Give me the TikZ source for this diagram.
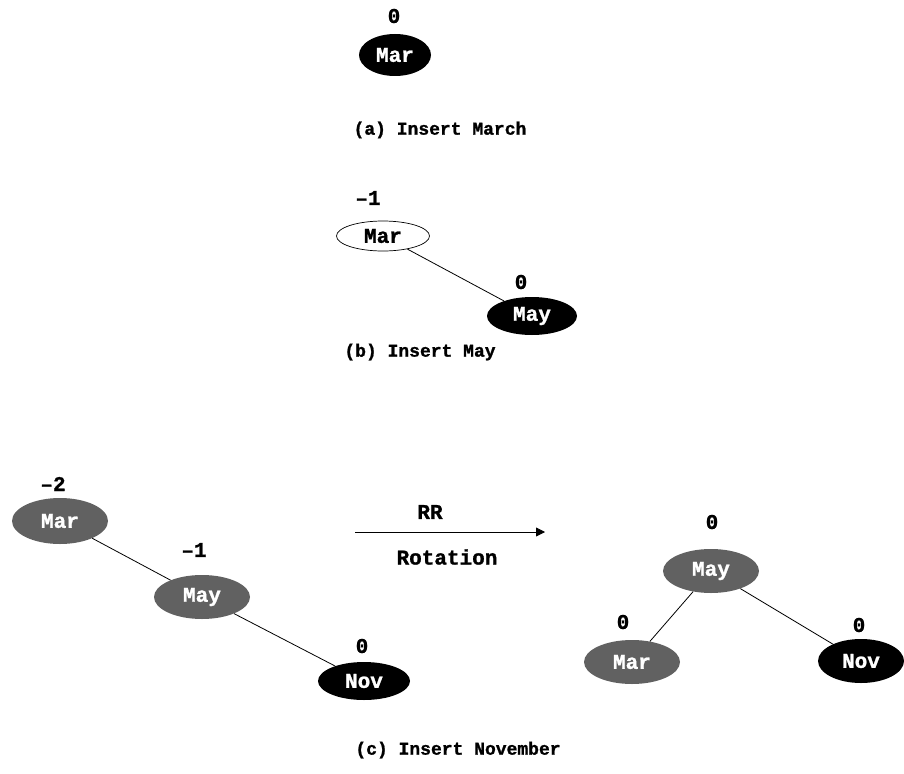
\documentclass[tikz,border=0pt]{standalone}
\usepackage{fontspec}
\setmonofont[FakeBold=1.2]{Liberation Mono}
\usetikzlibrary{shapes.geometric,arrows.meta}
\tikzset{
  txt/.style={font=\ttfamily\bfseries\fontsize{21}{21}\selectfont, inner sep=0pt},
  lbl/.style={txt},
  captext/.style={font=\ttfamily\bfseries\fontsize{18}{18}\selectfont, inner sep=0pt},
  avl/.style={txt, ellipse, inner sep=0pt, minimum width=96pt, minimum height=44pt, text=white},
  blacknode/.style={avl, fill=black},
  graynode/.style={avl, fill=black!62},
  whitenode/.style={avl, draw=black, line width=0.7pt, fill=white, text=black},
  edge/.style={draw=black, line width=0.8pt}
}
\begin{document}
\begin{tikzpicture}[x=1pt,y=-1pt]
  \useasboundingbox (0,0) rectangle (904,773);

  % (a) insert March
  \node[lbl] (balA) at (394,16) {0};
  \node[blacknode, minimum width=72pt, minimum height=42pt] (marA) at (395,55) {Mar};
  \node[captext] (capA) at (440,130) {(a) Insert March};

  % (b) insert May
  \node[lbl] (balB1) at (368,198) {\textendash1};
  \node[whitenode, minimum width=93pt, minimum height=30pt] (marB) at (383,236) {Mar};
  \node[lbl] (balB2) at (521,282) {0};
  \node[blacknode, minimum width=90pt, minimum height=38pt] (mayB) at (532,316) {May};
  \draw[edge] (marB) -- (mayB);
  \node[captext] (capB) at (420,352) {(b) Insert May};

  % (c) insert November, before rotation
  \node[lbl] (balC1) at (53,484) {\textendash2};
  \node[graynode, minimum height=46pt] (marC) at (60,521) {Mar};
  \node[lbl] (balC2) at (194,550) {\textendash1};
  \node[graynode] (mayC) at (202,597) {May};
  \node[lbl] (balC3) at (362,646) {0};
  \node[blacknode, minimum width=92pt, minimum height=38pt] (novC) at (364,681) {Nov};
  \draw[edge] (marC) -- (mayC);
  \draw[edge] (mayC) -- (novC);

  % rotation arrow
  \coordinate (arrS) at (355,532);
  \coordinate (arrE) at (545,532);
  \draw[edge, -{Triangle[length=9pt,width=9pt]}] (arrS) -- (arrE);
  \node[lbl] (rr) at (430,512) {RR};
  \node[lbl] (rot) at (447,557) {Rotation};

  % (c) after rotation
  \node[lbl] (balD1) at (712,522) {0};
  \node[graynode] (mayD) at (711,571) {May};
  \node[lbl] (balD2) at (623,622) {0};
  \node[graynode] (marD) at (632,662) {Mar};
  \node[lbl] (balD3) at (859,625) {0};
  \node[blacknode, minimum width=86pt] (novD) at (861,661) {Nov};
  \draw[edge] (mayD) -- (marD);
  \draw[edge] (mayD) -- (novD);

  \node[captext] (capC) at (458,750) {(c) Insert November};
\end{tikzpicture}
\end{document}
